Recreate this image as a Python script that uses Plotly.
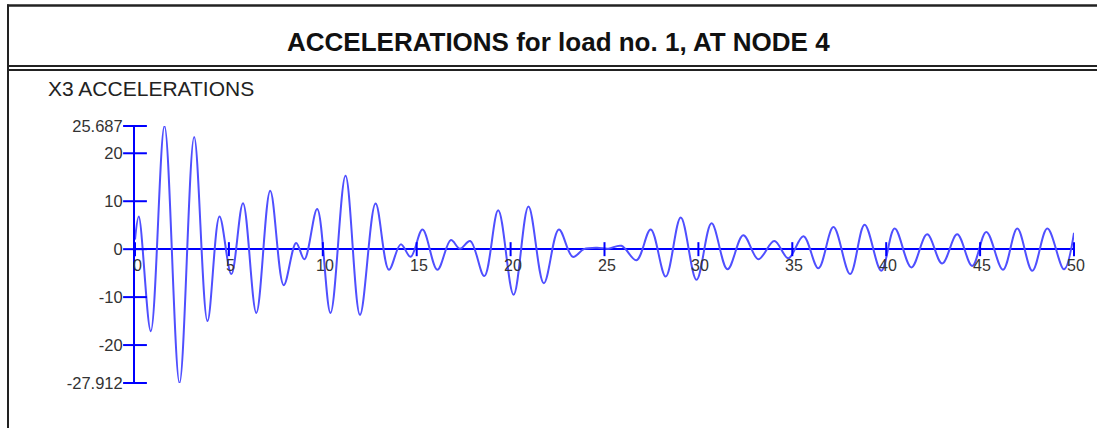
import plotly.graph_objects as go

# ---- data ----
time_s = [0.0, 0.2, 0.84, 1.57, 2.37, 3.15, 3.86, 4.5, 5.13, 5.75, 6.46, 7.2, 7.92,
          8.58, 9.02, 9.7, 10.41, 11.21, 11.98, 12.81, 13.52, 14.15, 14.68, 15.31,
          16.1, 16.82, 17.3, 17.85, 18.6, 19.34, 20.16, 20.95, 21.77, 22.57, 23.31,
          23.9, 24.6, 25.2, 25.9, 26.7, 27.46, 28.26, 29.06, 29.9, 30.7, 31.55,
          32.39, 33.19, 34.04, 34.79, 35.59, 36.39, 37.19, 38.08, 38.85, 39.74,
          40.45, 41.34, 42.18, 42.98, 43.78, 44.58, 45.33, 46.22, 46.98, 47.78,
          48.58, 49.47, 50.0]
accel = [2.0, 6.8, -17.1, 25.687, -27.912, 23.4, -15.0, 6.8, -5.2, 9.6, -13.3, 12.2,
         -7.5, 1.3, -2.1, 8.4, -13.3, 15.3, -13.7, 9.5, -4.3, 1.0, -1.6, 4.1, -4.3,
         1.9, 0.1, 1.7, -5.6, 8.1, -9.5, 8.9, -7.1, 4.1, -1.6, 0.0, 0.3, 0.1, 0.7,
         -2.3, 4.1, -5.7, 6.6, -6.4, 5.4, -4.2, 2.9, -2.1, 1.7, -1.9, 2.7, -4.0, 4.6,
         -5.2, 5.1, -4.5, 4.3, -3.8, 3.1, -3.0, 3.1, -3.5, 3.6, -4.3, 4.3, -4.5, 4.3,
         -4.2, 3.4]
x_ticks = [0, 5, 10, 15, 20, 25, 30, 35, 40, 45, 50]
y_ticks = [-27.912, -20, -10, 0, 10, 20, 25.687]
y_tick_text = ["-27.912", "-20", "-10", "0", "10", "20", "25.687"]
title_text = "ACCELERATIONS for load no. 1, AT NODE 4"
subtitle_text = "X3 ACCELERATIONS"

# ---- layout geometry (page pixels; body margin removed below) ----
FW, FH = 1097, 428
L, R, T, B = 135, 23, 126, 45
PW, PH = FW - L - R, FH - T - B


def px(x):
    return (x - L) / PW


def py(y):
    return (T + PH - y) / PH


AXIS = "#0000ff"
LINE = "#4f4fff"
FONT = "Liberation Sans, Arial, sans-serif"

fig = go.Figure()
fig.add_trace(go.Scatter(x=time_s, y=accel, mode="lines",
                         line=dict(color=LINE, width=2, shape="spline", smoothing=1.0),
                         hoverinfo="skip", showlegend=False))
# x-axis tick marks crossing the zero line
fig.add_trace(go.Scatter(x=x_ticks, y=[0] * len(x_ticks), mode="markers",
                         marker=dict(symbol="line-ns", size=10,
                                     line=dict(color=AXIS, width=2)),
                         cliponaxis=False, hoverinfo="skip", showlegend=False))
# y-axis tick marks crossing the axis
fig.add_trace(go.Scatter(x=[0] * len(y_ticks), y=y_ticks, mode="markers",
                         marker=dict(symbol="line-ew", size=17,
                                     line=dict(color=AXIS, width=2)),
                         cliponaxis=False, hoverinfo="skip", showlegend=False))

annotations = []
for t in x_ticks:
    annotations.append(dict(x=t, y=0, xref="x", yref="y", text=str(t), showarrow=False,
                            yshift=-16, xshift=2,
                            font=dict(family=FONT, size=16, color="#333333")))
annotations.append(dict(x=px(558), y=py(42), xref="paper", yref="paper",
                        text="<b>" + title_text + "</b>", showarrow=False,
                        xanchor="center", yanchor="middle",
                        font=dict(family=FONT, size=26, color="#111111")))
annotations.append(dict(x=px(46), y=py(88), xref="paper", yref="paper",
                        text=subtitle_text, showarrow=False, xanchor="left", yanchor="middle",
                        font=dict(family=FONT, size=21, color="#222222")))

shapes = [
    dict(type="line", xref="paper", yref="paper", x0=px(7), x1=px(1110), y0=py(5.5), y1=py(5.5),
         line=dict(color="#222222", width=2.5)),
    dict(type="line", xref="paper", yref="paper", x0=px(7), x1=px(1110), y0=py(66), y1=py(66),
         line=dict(color="#222222", width=1.8)),
    dict(type="line", xref="paper", yref="paper", x0=px(7), x1=px(1110), y0=py(70), y1=py(70),
         line=dict(color="#222222", width=1.8)),
    dict(type="line", xref="paper", yref="paper", x0=px(8), x1=px(8), y0=py(4.5), y1=py(440),
         line=dict(color="#222222", width=2)),
]

fig.update_layout(
    width=FW, height=FH, autosize=False,
    margin=dict(l=L, r=R, t=T, b=B),
    paper_bgcolor="white", plot_bgcolor="white",
    showlegend=False,
    annotations=annotations, shapes=shapes,
    xaxis=dict(range=[0, 50], showgrid=False, zeroline=False, showline=False,
               showticklabels=False, ticks=""),
    yaxis=dict(range=[y_ticks[0], y_ticks[-1]], showgrid=False,
               zeroline=True, zerolinecolor=AXIS, zerolinewidth=2,
               showline=True, linecolor=AXIS, linewidth=2,
               tickmode="array", tickvals=y_ticks, ticktext=y_tick_text,
               ticks="outside", ticklen=7, tickcolor="rgba(0,0,0,0)",
               tickfont=dict(family=FONT, size=16.5, color="#333333")),
)

fig.write_html("out.html", config={"displayModeBar": False},
               post_script="document.body.style.margin='0px';")
